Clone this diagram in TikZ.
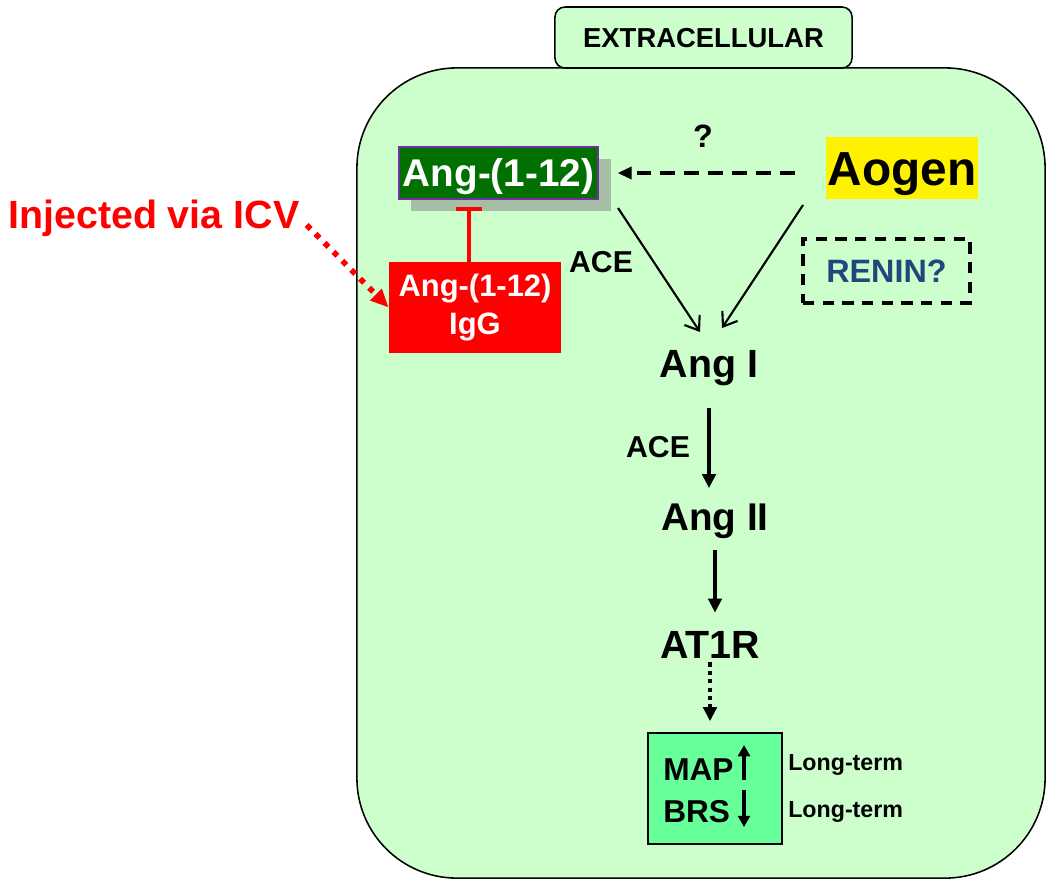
\documentclass[tikz,border=0pt]{standalone}
\usepackage{fontspec}
\setmainfont{Liberation Sans}
\usetikzlibrary{arrows.meta}
\definecolor{cellbg}{RGB}{204,255,204}
\definecolor{darkgreenbox}{RGB}{0,112,0}
\definecolor{purpleborder}{RGB}{112,48,160}
\definecolor{shadowgray}{RGB}{166,190,166}
\definecolor{mapgreen}{RGB}{102,255,153}
\definecolor{reninblue}{RGB}{31,73,125}
\newcommand{\fsz}[1]{\fontsize{#1}{#1}\selectfont}
\begin{document}
\begin{tikzpicture}[x=0.025cm,y=-0.025cm,
  every node/.style={inner sep=0pt},
  lbl/.style={anchor=base},
  mainarrow/.style={line width=2.5pt, -{Triangle[length=10pt,width=9.5pt]}},
  openarrow/.style={line width=1.5pt, -{Straight Barb[length=9pt,width=13pt,line width=1.5pt]}},
]
\useasboundingbox (0,0) rectangle (1050,883);

% cell and header
\node[draw, line width=1.1pt, fill=cellbg, rounded corners=2.5cm, minimum width=17.2cm, minimum height=20.25cm] (cell) at (701,473) {};
\node[draw, line width=1.1pt, fill=cellbg, rounded corners=0.25cm, minimum width=7.425cm, minimum height=1.525cm, text height=14pt, text depth=0pt, font=\bfseries\fsz{19.5}] (extra) at (703.5,37.5) {EXTRACELLULAR};

% Ang-(1-12)
\node[fill=shadowgray, minimum width=5cm, minimum height=1.3cm] (ang12shadow) at (511,185) {};
\node[draw=purpleborder, line width=0.8pt, fill=darkgreenbox, text=white, minimum width=4.975cm, minimum height=1.3cm, text height=19.7pt, text depth=0pt, font=\bfseries\fsz{27.5}] (ang12) at (498.5,173) {Ang-(1-12)};

% Aogen
\node[fill=yellow, minimum width=3.8cm, minimum height=1.55cm, text height=24.3pt, text depth=0pt, font=\bfseries\fsz{34}] (aogen) at (902,168) {Aogen};
\node[lbl, font=\bfseries\fsz{23}] (q) at (703,147) {?};
\draw[line width=2.7pt, dash pattern=on 10.5pt off 6.5pt, -{Triangle[length=10pt,width=8.5pt]}, shorten <=0.775cm, shorten >=0.475cm] (aogen.west |- ang12.east) -- (ang12.east);

% RENIN
\node[draw, line width=2.4pt, dash pattern=on 8pt off 6pt, minimum width=4.175cm, minimum height=1.6cm, text=reninblue, text height=16.5pt, text depth=0pt, font=\bfseries\fsz{23}] (renin) at (886.5,271) {RENIN?};

% ACE labels
\node[lbl, font=\bfseries\fsz{21.5}] (ace1) at (601,272) {ACE};
\node[lbl, font=\bfseries\fsz{21.5}] (ace2) at (658,457) {ACE};

% chain
\node[lbl, font=\bfseries\fsz{28}] (angI) at (709,377) {Ang I};
\node[lbl, font=\bfseries\fsz{27.5}] (angII) at (715,530) {Ang II};
\node[lbl, font=\bfseries\fsz{28}] (at1r) at (710,658) {AT1R};

\coordinate (d1s) at (618,208);
\coordinate (d1e) at (700,332);
\coordinate (d2s) at (803,205);
\coordinate (d2e) at (722,328);
\draw[openarrow] (d1s) -- (d1e);
\draw[openarrow] (d2s) -- (d2e);

\draw[mainarrow, shorten <=0.55cm, shorten >=0.375cm] (angI.south) -- (angI.south |- angII.north);
\draw[mainarrow, shorten <=0.3cm, shorten >=0.45cm] (angII.south) -- (angII.south |- at1r.north);

% MAP / BRS
\node[draw, line width=1.1pt, fill=mapgreen, minimum width=3.35cm, minimum height=2.775cm] (mapbox) at (715,788.5) {};
\draw[line width=2.6pt, dash pattern=on 3pt off 3pt, -{Triangle[length=10pt,width=9.5pt]}, shorten <=0.1cm, shorten >=0.275cm] (at1r.south) -- (at1r.south |- mapbox.north);
\node[anchor=base west, font=\bfseries\fsz{22.5}] (map) at (663,780) {MAP};
\node[anchor=base west, font=\bfseries\fsz{22.5}] (brs) at (663,822) {BRS};
\draw[line width=2.7pt, -{Triangle[length=8pt,width=8.5pt]}] (744,780) -- (744,745);
\draw[line width=2.7pt, -{Triangle[length=8pt,width=8.5pt]}] (744,790) -- (744,827);
\node[anchor=base west, font=\bfseries\fsz{16.5}] (lt1) at (788,770) {Long-term};
\node[anchor=base west, font=\bfseries\fsz{16.5}] (lt2) at (788,817) {Long-term};

% IgG
\node[fill=red, text=white, minimum width=4.3cm, minimum height=2.275cm, align=center, font=\bfseries\fsz{22}] (igg) at (475,307.5) {Ang-(1-12)\\[5pt]IgG};
\coordinate (inhbar) at (469,207);
\draw[red, line width=2.8pt, {Bar[width=18pt,line width=2.8pt]}-] (inhbar) -- (inhbar |- igg.north);

% Injected
\node[anchor=base west, text=red, font=\bfseries\fsz{28}] (inj) at (8,228) {Injected via ICV};
\draw[red, line width=4pt, dash pattern=on 4pt off 5pt, -{Triangle[length=13pt,width=11pt]}, shorten <=0.25cm] (inj.east) -- (igg.west);
\end{tikzpicture}
\end{document}
